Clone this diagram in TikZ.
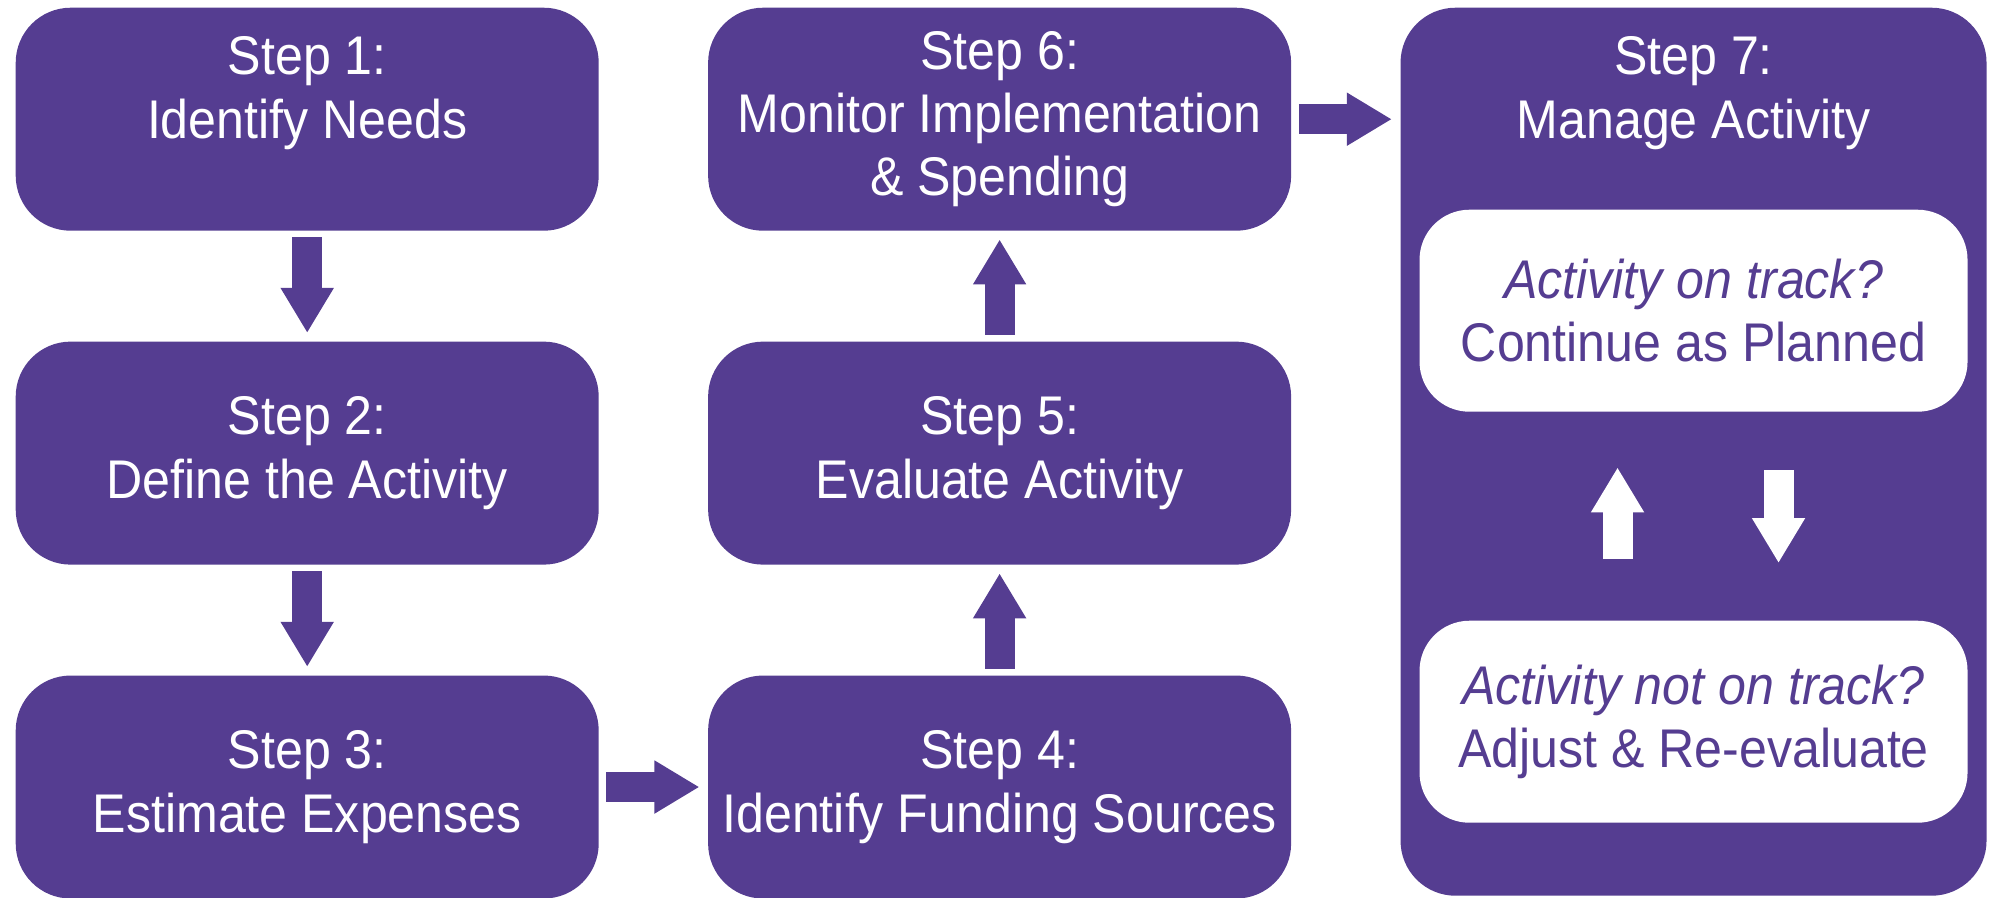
\documentclass[tikz,border=0pt]{standalone}
\usepackage{fontspec}
\setmainfont{Liberation Sans}[FakeStretch=0.92]
\usetikzlibrary{positioning,arrows.meta}
\definecolor{stepviolet}{RGB}{85,61,145}

\tikzset{
	stepbox/.style={rectangle, rounded corners=0.55cm, fill=stepviolet, text=white,
		minimum width=5.83cm, minimum height=2.23cm, inner sep=0pt, align=center,
		font=\fontsize{15.5}{18}\selectfont},
	checkbox/.style={stepbox, fill=white, text=stepviolet, rounded corners=0.5cm,
		minimum width=5.48cm, minimum height=2.02cm, font=\fontsize{15.5}{17.8}\selectfont},
	flow/.style={draw=stepviolet, line width=3mm, -{Triangle[length=4.5mm,width=5mm]},
		shorten <=0.7mm, shorten >=0.8mm},
	flowback/.style={flow, draw=white},
}

\begin{document}
\begin{tikzpicture}[node distance=1.095cm and 1.08cm]
	\useasboundingbox (0,0) rectangle (19.90,-8.97);
	
	\node[stepbox, anchor=north west] (s1) at (0.15,-0.07) {Step 1:\\Identify Needs\\\mbox{}};
	\node[stepbox, below=of s1] (s2) {Step 2:\\Define the Activity};
	\node[stepbox, below=of s2] (s3) {Step 3:\\Estimate Expenses};
	\node[stepbox, right=of s3] (s4) {Step 4:\\Identify Funding Sources};
	\node[stepbox, above=of s4] (s5) {Step 5:\\Evaluate Activity};
	\node[stepbox, above=of s5] (s6) {Step 6:\\Monitor Implementation\\\& Spending};
	
	\node[stepbox, minimum width=5.86cm, minimum height=8.88cm,
		right=1.08cm of s6.north east, anchor=north west] (s7) {};
	\node[stepbox, fill=none, minimum height=0pt] (s7head) at (s6 -| s7) {Step 7:\\Manage Activity\\\mbox{}};
	
	\node[checkbox, below=2.02cm of s7.north] (w1) {\textit{Activity on track?}\\Continue as Planned};
	\node[checkbox, above=0.73cm of s7.south] (w2) {\textit{Activity not on track?}\\Adjust \& Re-evaluate};
	
	\draw[flow, shorten <=0.6mm] (s1) -- (s2);
	\draw[flow, shorten <=0.6mm] (s2) -- (s3);
	\draw[flow] (s3) -- (s4);
	\draw[flow, shorten <=0.6mm] (s4) -- (s5);
	\draw[flow, shorten <=0.6mm] (s5) -- (s6);
	\draw[flow] (s6) -- (s6 -| s7.west);
	
	\draw[flowback, shorten <=6.1mm, shorten >=5.5mm] ([xshift=-0.76cm]w2.north) -- ([xshift=-0.76cm]w1.south);
	\draw[flowback, shorten <=5.8mm, shorten >=5.7mm] ([xshift=0.85cm]w1.south) -- ([xshift=0.85cm]w2.north);
\end{tikzpicture}
\end{document}
